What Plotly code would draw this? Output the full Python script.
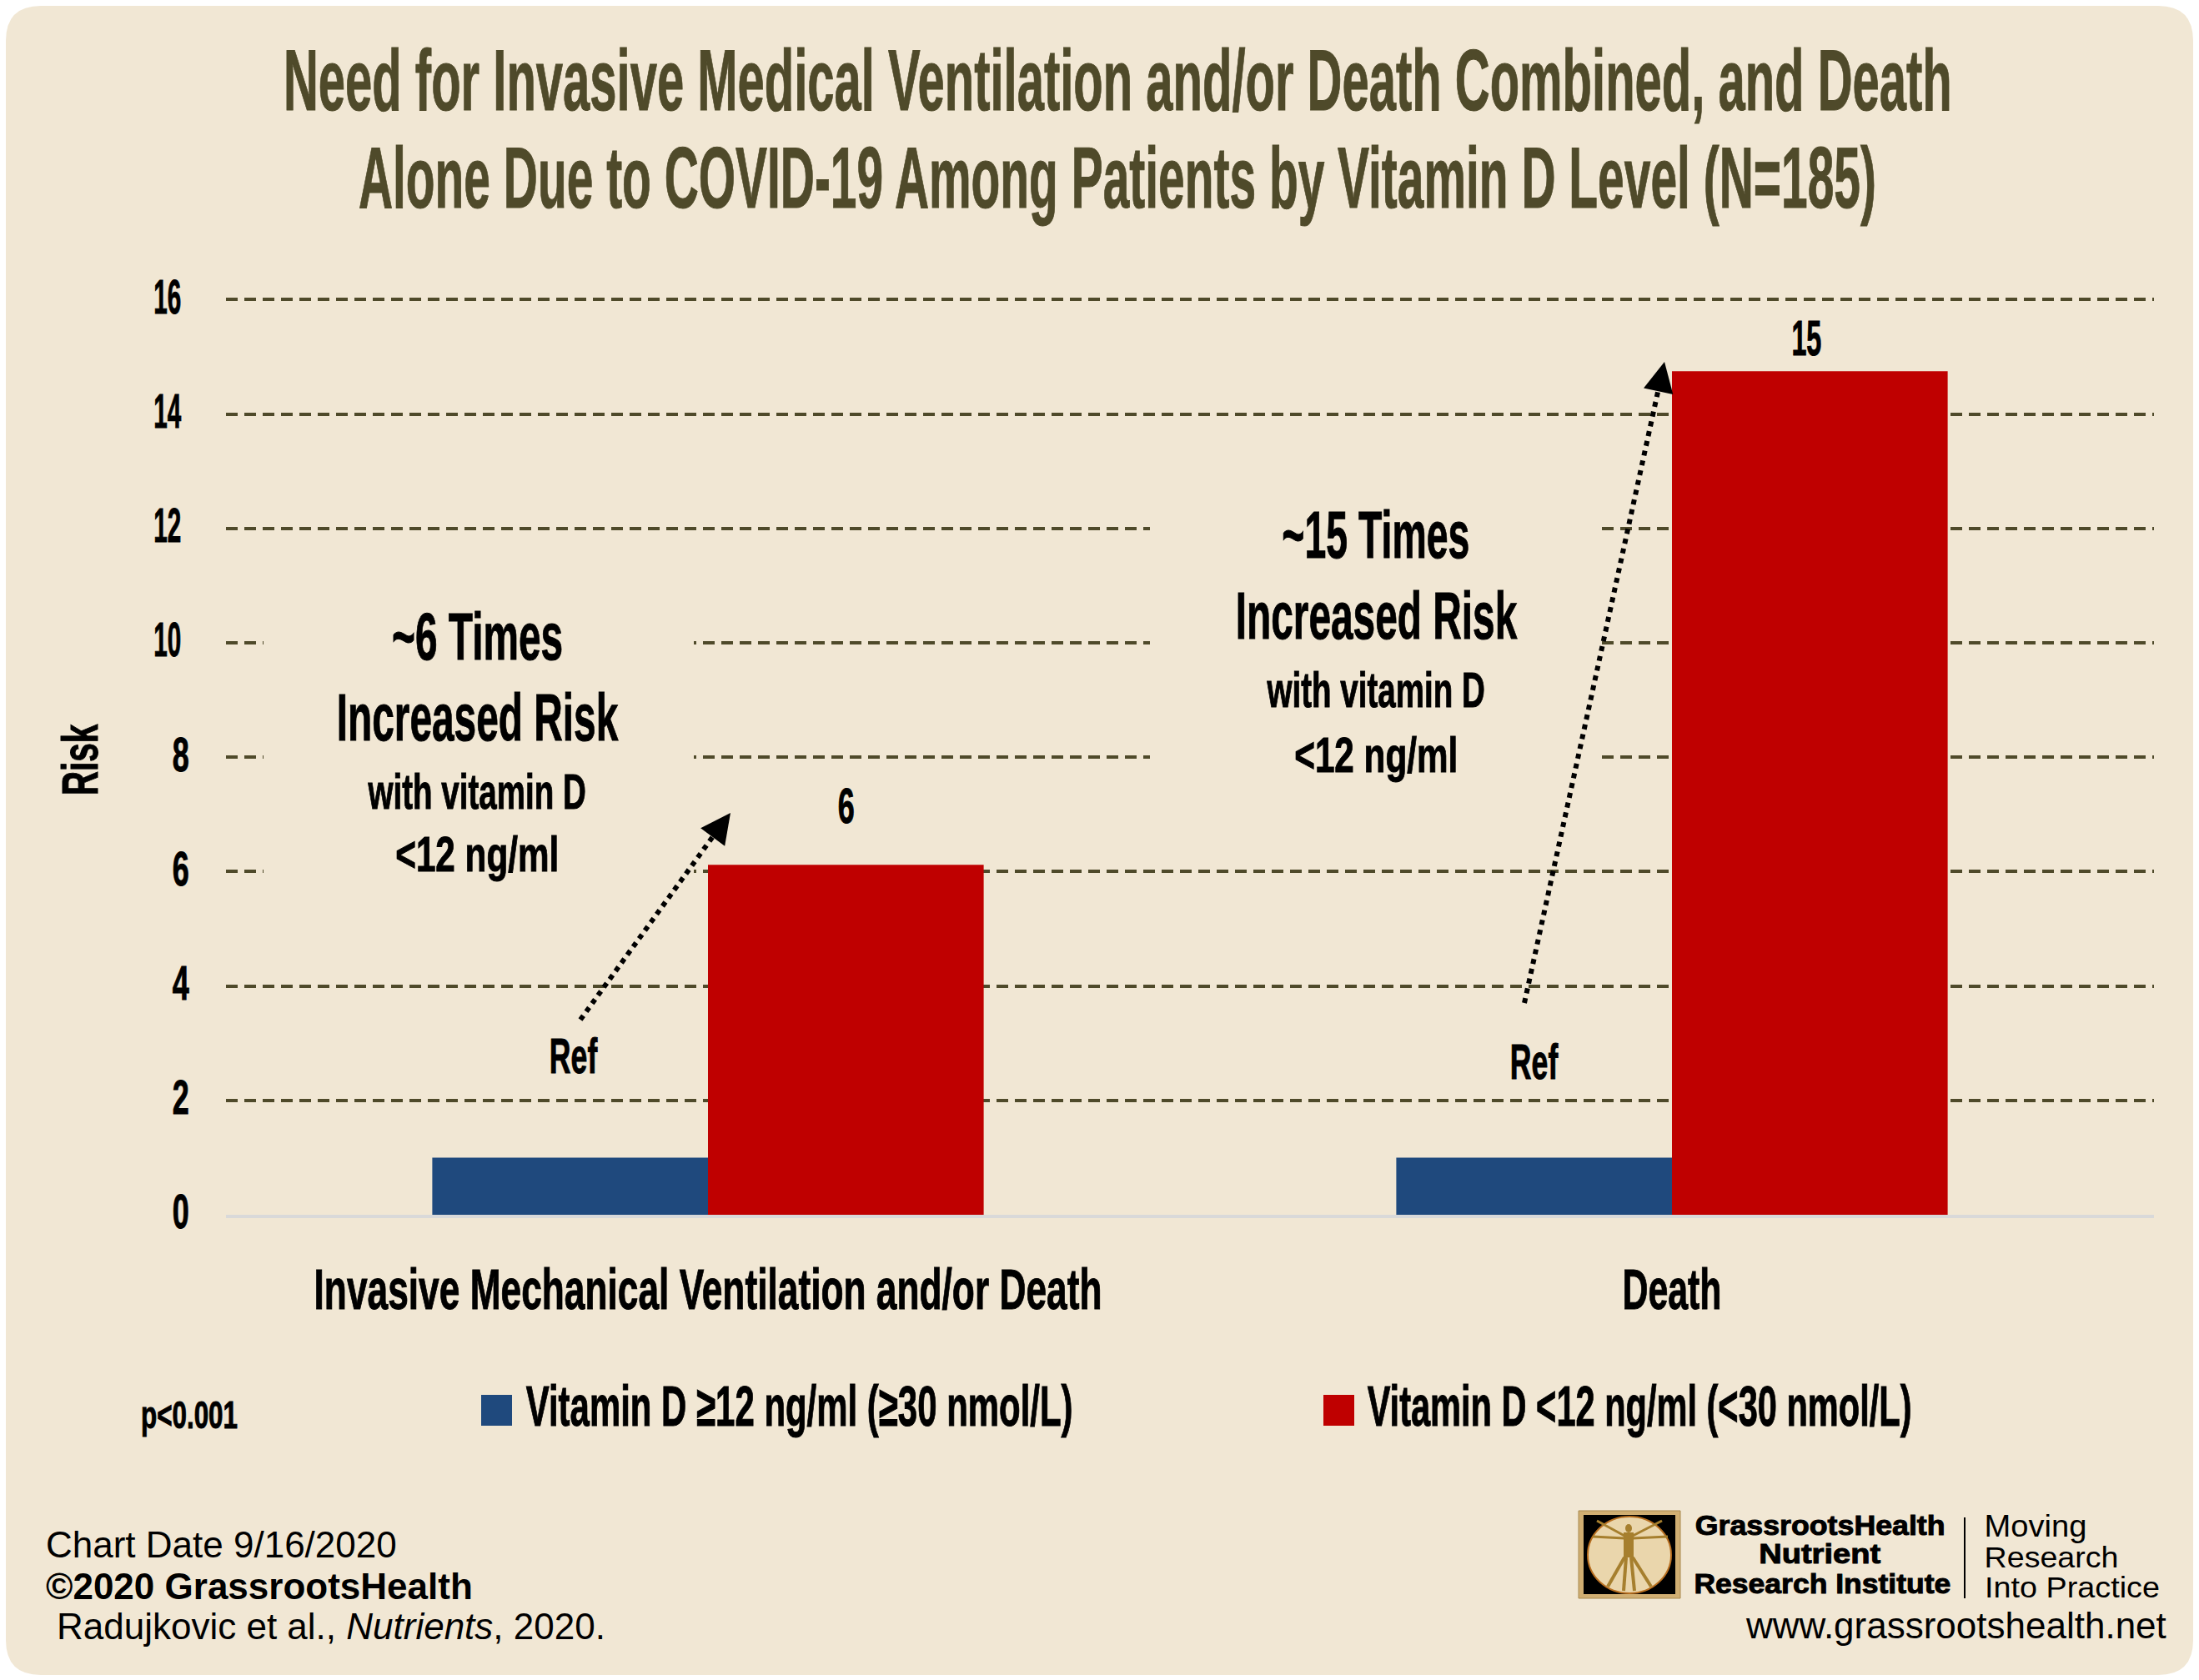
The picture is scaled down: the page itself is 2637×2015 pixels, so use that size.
import plotly.graph_objects as go

W, H = 2637, 2015
CATEGORIES = ["Invasive Mechanical Ventilation and/or Death", "Death"]
SERIES_NAMES = ["Vitamin D ≥12 ng/ml (≥30 nmol/L)", "Vitamin D <12 ng/ml (<30 nmol/L)"]
VITD_HIGH = [1, 1]
VITD_LOW = [6.12, 14.75]
Y_TICKS = [0, 2, 4, 6, 8, 10, 12, 14, 16]
TITLE_LINES = ["Need for Invasive Medical Ventilation and/or Death Combined, and Death",
               "Alone Due to COVID-19 Among Patients by Vitamin D Level (N=185)"]

BEIGE = "#F1E7D4"
OLIVE = "#4F4A2A"
BLUE = "#1F497D"
RED = "#BF0000"
GOLD = "#A67F2E"
COND = "Liberation Sans Narrow, Arial Narrow, Liberation Sans"
ARIAL = "Liberation Sans, Arial"


def fx(x):
    return x / W


def fy(y):
    return 1 - y / H


def rect(x0, y0, x1, y1, fill, line=None, layer="above"):
    return dict(type="rect", xref="paper", yref="paper", x0=fx(x0), x1=fx(x1), y0=fy(y0), y1=fy(y1),
                fillcolor=fill, line=dict(color=line or fill, width=1 if line else 0), layer=layer)


def seg(x0, y0, x1, y1, color, width, dash="solid"):
    return dict(type="line", xref="paper", yref="paper", x0=fx(x0), x1=fx(x1), y0=fy(y0), y1=fy(y1),
                line=dict(color=color, width=width, dash=dash), layer="above")


def label(text, x, y, size, color="black", bold=True, font=COND, xanchor="center", **kw):
    return dict(text=f"<b>{text}</b>" if bold else text, x=fx(x), y=fy(y), xref="paper", yref="paper",
                xanchor=xanchor, yanchor="middle", showarrow=False,
                font=dict(family=font, size=size, color=color), **kw)


fig = go.Figure()
fig.add_bar(name=SERIES_NAMES[0], x=CATEGORIES, y=VITD_HIGH, marker=dict(color=BLUE, line=dict(width=0)))
fig.add_bar(name=SERIES_NAMES[1], x=CATEGORIES, y=VITD_LOW, marker=dict(color=RED, line=dict(width=0)))

r = 42
bg_path = (f"M {fx(7+r)} {fy(7)} L {fx(2630-r)} {fy(7)} Q {fx(2630)} {fy(7)} {fx(2630)} {fy(7+r)} "
           f"L {fx(2630)} {fy(2009-r)} Q {fx(2630)} {fy(2009)} {fx(2630-r)} {fy(2009)} "
           f"L {fx(7+r)} {fy(2009)} Q {fx(7)} {fy(2009)} {fx(7)} {fy(2009-r)} "
           f"L {fx(7)} {fy(7+r)} Q {fx(7)} {fy(7)} {fx(7+r)} {fy(7)} Z")

shapes = [
    dict(type="path", path=bg_path, xref="paper", yref="paper", fillcolor=BEIGE, line=dict(width=0), layer="below"),
    rect(316, 723, 832, 1077, BEIGE),
    rect(1379, 550, 1913, 960, BEIGE),
    seg(696, 1223, 866, 988, "black", 6, "6px,6px"),
    seg(1828, 1203, 1992, 452, "black", 6, "6px,6px"),
    rect(577, 1673, 614, 1710, BLUE),
    rect(1587, 1673, 1624, 1710, RED),
    # logo
    rect(1893, 1812, 2015, 1917, "#D0AE72", "#A8894F"),
    rect(1899, 1817, 2009, 1912, "#000000"),
    dict(type="circle", xref="paper", yref="paper", x0=fx(1904), x1=fx(2004), y0=fy(1819), y1=fy(1911),
         fillcolor="#EAD6AC", line=dict(color="#B86F20", width=2), layer="above"),
    dict(type="circle", xref="paper", yref="paper", x0=fx(1949), x1=fx(1957), y0=fy(1828), y1=fy(1838),
         fillcolor=GOLD, line=dict(width=0), layer="above"),
    seg(1953, 1838, 1953, 1868, GOLD, 12),
    seg(1948, 1842, 1915, 1824, GOLD, 3),
    seg(1958, 1842, 1993, 1824, GOLD, 3),
    seg(1948, 1845, 1910, 1843, GOLD, 3),
    seg(1958, 1845, 2000, 1843, GOLD, 3),
    seg(1948, 1868, 1928, 1903, GOLD, 4),
    seg(1958, 1868, 1980, 1903, GOLD, 4),
    seg(1950, 1868, 1947, 1908, GOLD, 4),
    seg(1956, 1868, 1960, 1908, GOLD, 4),
    seg(2356, 1820, 2356, 1917, "black", 2),
]

annotations = [
    label(TITLE_LINES[0], 1340, 96, 104, OLIVE),
    label(TITLE_LINES[1], 1340, 213, 104, OLIVE),
    label("~6 Times", 572, 763, 80),
    label("Increased Risk", 572, 860, 80),
    label("with vitamin D", 572, 949, 60),
    label("&lt;12 ng/ml", 572, 1024, 60),
    label("~15 Times", 1650, 641, 80),
    label("Increased Risk", 1650, 738, 80),
    label("with vitamin D", 1650, 827, 60),
    label("&lt;12 ng/ml", 1650, 906, 60),
    label("6", 1014, 966, 60),
    label("15", 2166, 405, 60),
    label("Ref", 688, 1266, 60),
    label("Ref", 1840, 1273, 60),
    label("p&lt;0.001", 227, 1697, 46),
    label(SERIES_NAMES[0], 959, 1686, 68),
    label(SERIES_NAMES[1], 1966, 1686, 68),
    label("Chart Date 9/16/2020", 53, 1852, 44, bold=False, font=ARIAL, xanchor="left"),
    label("©2020 GrassrootsHealth", 53, 1902, 44, font=ARIAL, xanchor="left"),
    label("Radujkovic et al., <i>Nutrients</i>, 2020.", 66, 1950, 44, bold=False, font=ARIAL, xanchor="left"),
    label("www.grassrootshealth.net", 2600, 1949, 44, bold=False, font=ARIAL, xanchor="right"),
    label("GrassrootsHealth", 2182, 1829, 34, font=ARIAL),
    label("Nutrient", 2182, 1863, 34, font=ARIAL),
    label("Research Institute", 2185, 1899, 34, font=ARIAL),
    label("Moving", 2441, 1830, 36, bold=False, font=ARIAL),
    label("Research", 2460, 1867, 36, bold=False, font=ARIAL),
    label("Into Practice", 2485, 1903, 36, bold=False, font=ARIAL),
]
for tip, tail in [((876, 975), (862, 994)), ((1996, 434), (1991, 458))]:
    annotations.append(dict(x=fx(tip[0]), y=fy(tip[1]), xref="paper", yref="paper", text="", showarrow=True,
                            ax=tail[0] - tip[0], ay=tail[1] - tip[1], axref="pixel", ayref="pixel",
                            arrowhead=2, arrowsize=1.2, arrowwidth=6, arrowcolor="black"))

fig.update_layout(
    width=W, height=H, margin=dict(l=0, r=0, t=0, b=0, autoexpand=False), paper_bgcolor="white",
    plot_bgcolor="rgba(0,0,0,0)",
    barmode="group", bargap=0.428, bargroupgap=0, showlegend=False,
    shapes=shapes, annotations=annotations,
    xaxis=dict(domain=[fx(271), fx(2583)], type="category", automargin=False, showline=True, linecolor="#D9D9D9",
               linewidth=4, showgrid=False, ticks="", ticklabelstandoff=27,
               tickfont=dict(family=COND, size=68, color="black", weight="bold"), zeroline=False),
    yaxis=dict(domain=[fy(1457), fy(356)], range=[0, 16.05], tickvals=Y_TICKS, ticks="", ticklabelstandoff=37,
               automargin=False, showgrid=True, gridcolor=OLIVE, gridwidth=4, griddash="14px,8px", zeroline=False,
               tickfont=dict(family=COND, size=58, color="black", weight="bold"),
               title=dict(text="<b>Risk</b>", font=dict(family=COND, size=62, color="black"), standoff=30)),
)

# Condensed headline face: squeeze each text to the width it has in the reference.
POST = r"""
document.body.style.margin = '0';
var widths = {
 'Need for Invasive Medical Ventilation and/or Death Combined, and Death': 2001,
 'Alone Due to COVID-19 Among Patients by Vitamin D Level (N=185)': 1820,
 'Invasive Mechanical Ventilation and/or Death': 945, 'Death': 119, 'Risk': 86,
 '~6 Times': 205, '~15 Times': 225, 'Increased Risk': 338, 'with vitamin D': 262, '<12 ng/ml': 196,
 'p<0.001': 116, 'Ref': 58, '6': 20, '15': 36,
 'Vitamin D ≥12 ng/ml (≥30 nmol/L)': 656, 'Vitamin D <12 ng/ml (<30 nmol/L)': 653,
 '0': 20, '2': 20, '4': 20, '8': 20, '10': 33, '12': 33, '14': 33, '16': 33,
 'GrassrootsHealth': 300, 'Nutrient': 146, 'Research Institute': 308,
 'Moving': 123, 'Research': 161, 'Into Practice': 210
};
var noStroke = {'Moving': 1, 'Research': 1, 'Into Practice': 1};
function squeeze() {
  var gd = document.getElementById('{plot_id}');
  gd.querySelectorAll('svg text').forEach(function (t) {
    if (t.getAttribute('data-sq')) return;
    var s = t.textContent.trim();
    var target = widths[s];
    if (!target) return;
    var b = t.getBBox();
    if (!b.width) return;
    var dx = s === 'Risk' ? -5 : 0;
    var dy = t.closest('.ytick') ? -4 : 0;
    var f = target / b.width, cx = b.x + b.width / 2;
    var tr = t.getAttribute('transform') || '';
    t.setAttribute('transform', tr + ' translate(' + (cx + dx) + ',' + dy + ') scale(' + f + ',1) translate(' + (-cx) + ',0)');
    if (!noStroke[s]) {
      t.style.stroke = t.style.fill;
      t.style.strokeWidth = '1px';
    }
    t.setAttribute('data-sq', '1');
  });
}
squeeze();
setTimeout(squeeze, 0);
setTimeout(squeeze, 200);
"""
fig.write_html("out.html", post_script=POST, config=dict(displayModeBar=False))
